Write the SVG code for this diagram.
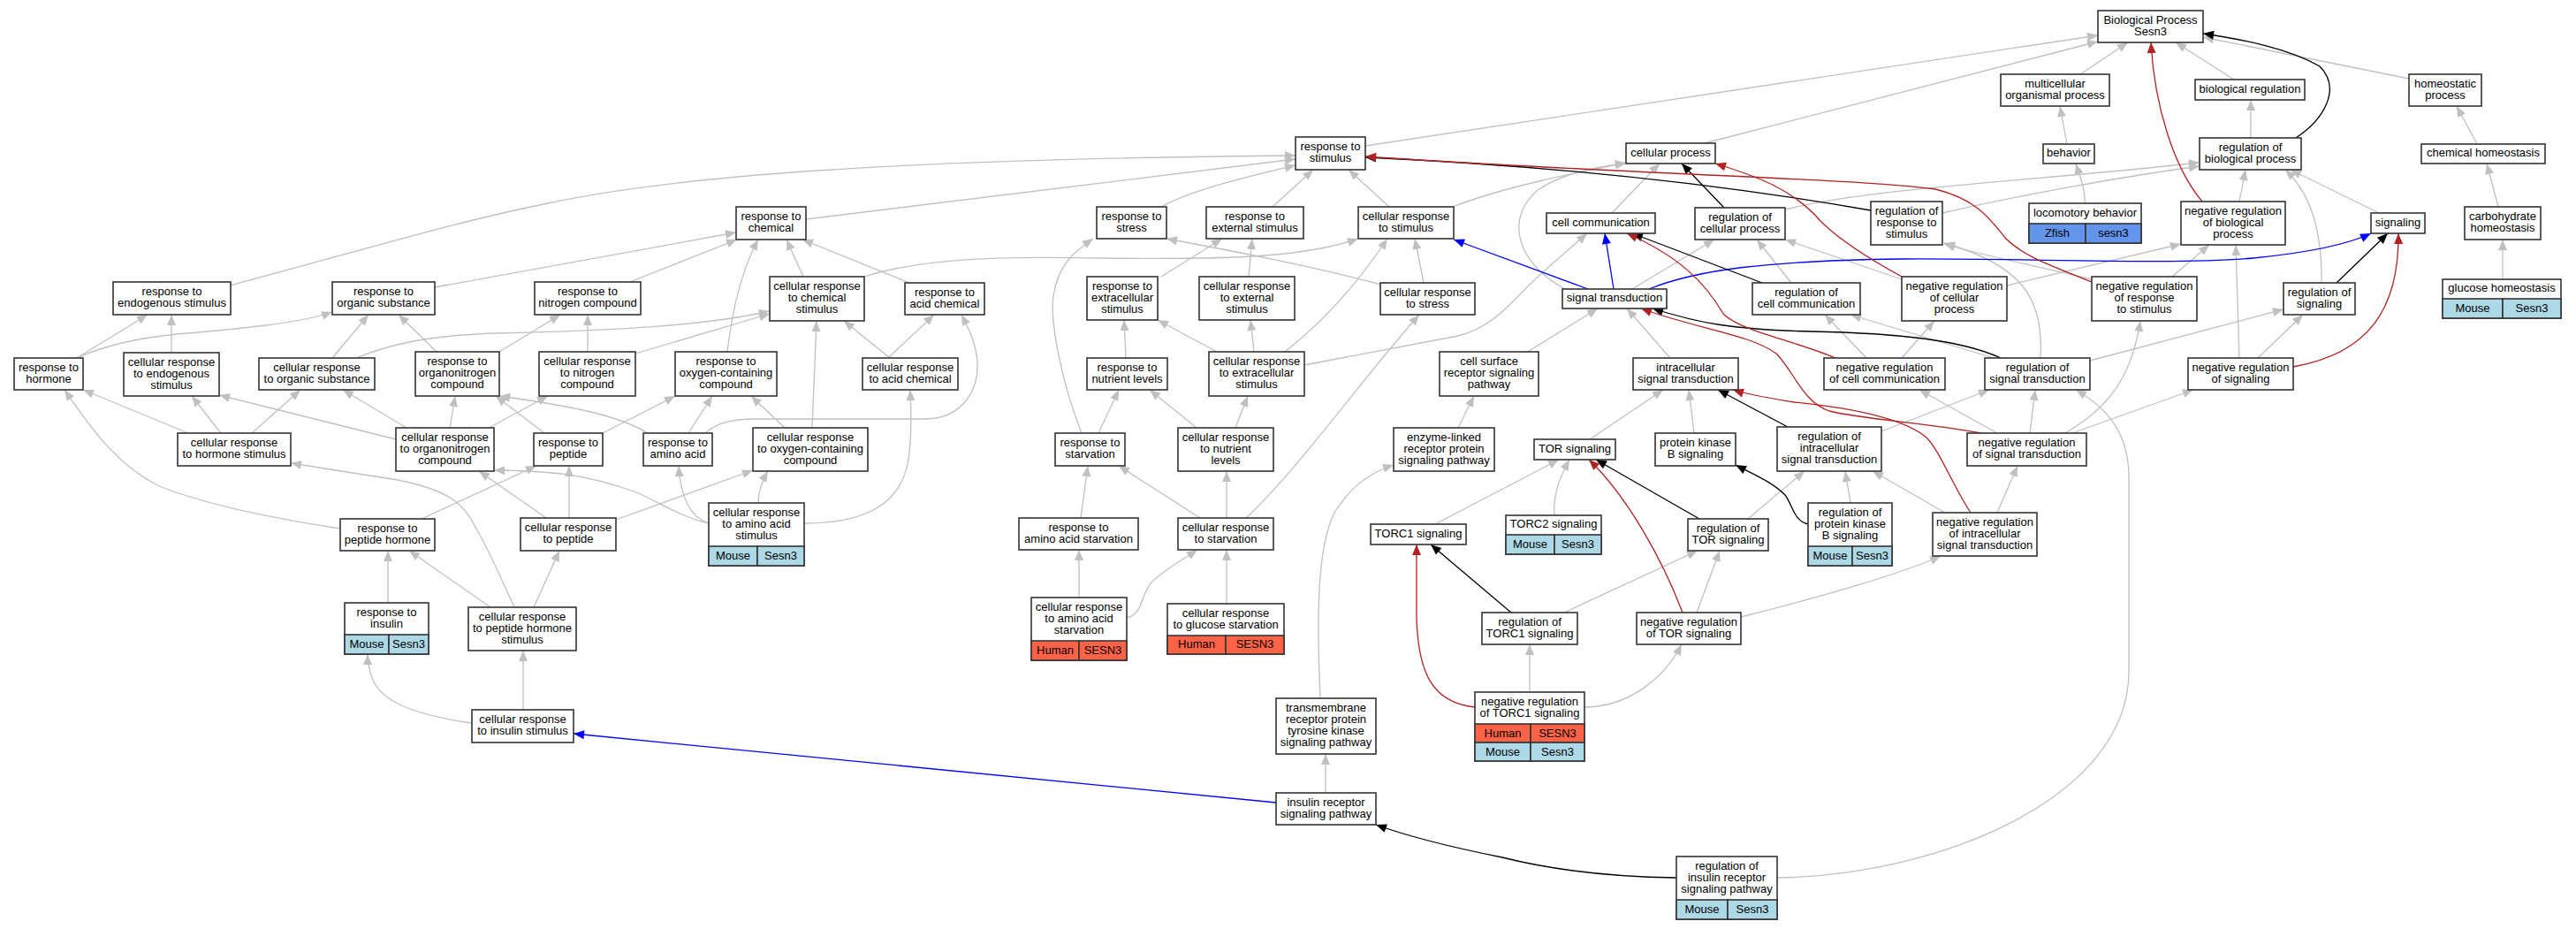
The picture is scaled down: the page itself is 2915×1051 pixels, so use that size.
<svg xmlns="http://www.w3.org/2000/svg" width="2915" height="1051" viewBox="0 0 2915 1051">
<style>
.n rect{fill:#fff;stroke:#333;stroke-width:1.6}
.n rect.mo{fill:#add8e6}
.n rect.hu{fill:#ff6347}
.n rect.zf{fill:#6495ed}
text{font-family:"Liberation Sans",Arial,Helvetica,sans-serif;font-size:13px;text-anchor:middle;fill:#000}
#edges path{fill:none;stroke-width:1.3}
#edges .g{stroke:#c0c0c0;marker-end:url(#mg)}
#edges .k{stroke:#000;marker-end:url(#mk)}
#edges .r{stroke:#b22222;marker-end:url(#mr)}
#edges .b{stroke:#0000ff;marker-end:url(#mb)}
</style>
<defs>
<marker id="mg" markerUnits="userSpaceOnUse" markerWidth="13" markerHeight="11" refX="12" refY="5" orient="auto" overflow="visible"><path d="M0,0L12,5L0,10z" fill="#c0c0c0"/></marker>
<marker id="mk" markerUnits="userSpaceOnUse" markerWidth="13" markerHeight="11" refX="12" refY="5" orient="auto" overflow="visible"><path d="M0,0L12,5L0,10z" fill="#000"/></marker>
<marker id="mr" markerUnits="userSpaceOnUse" markerWidth="13" markerHeight="11" refX="12" refY="5" orient="auto" overflow="visible"><path d="M0,0L12,5L0,10z" fill="#b22222"/></marker>
<marker id="mb" markerUnits="userSpaceOnUse" markerWidth="13" markerHeight="11" refX="12" refY="5" orient="auto" overflow="visible"><path d="M0,0L12,5L0,10z" fill="#0000ff"/></marker>
</defs>
<rect x="0" y="0" width="2915" height="1051" fill="#fff"/>
<g id="edges">
<path class="g" d="M1545,165 L2374,40"/>
<path class="g" d="M1929,162 L2374,47"/>
<path class="g" d="M2354,84 L2408,48"/>
<path class="g" d="M2528,90 L2462,48"/>
<path class="g" d="M2726,89 L2493,42"/>
<path class="g" d="M2339,163 L2331,120"/>
<path class="g" d="M2359,230 C2360,214 2353,198 2349,185"/>
<path class="g" d="M2547,156 L2547,113"/>
<path class="g" d="M2803,163 L2780,120"/>
<path class="g" d="M2827,234 L2814,185"/>
<path class="g" d="M2832,316 L2832,271"/>
<path class="g" d="M2534,228 L2541,192"/>
<path class="g" d="M2692,241 L2592,192"/>
<path class="g" d="M2627,320 C2628,270 2618,222 2586,192"/>
<path class="g" d="M2020,237 C2120,212 2300,205 2489,184"/>
<path class="g" d="M2198,241 C2280,222 2400,200 2489,188"/>
<path class="g" d="M2367,316 C2300,300 2240,288 2200,276"/>
<path class="g" d="M2309,405 C2313,340 2290,300 2200,275"/>
<path class="g" d="M2458,313 L2500,277"/>
<path class="g" d="M2271,323 L2468,276"/>
<path class="g" d="M2152,316 L2020,271"/>
<path class="g" d="M2555,405 L2606,356"/>
<path class="g" d="M2534,405 L2530,277"/>
<path class="g" d="M2365,408 L2584,350"/>
<path class="g" d="M2256,405 L2094,356"/>
<path class="g" d="M2297,490 L2303,441"/>
<path class="g" d="M2260,490 L2172,441"/>
<path class="g" d="M2345,490 L2482,441"/>
<path class="g" d="M2337,490 C2385,462 2412,428 2422,363"/>
<path class="g" d="M2011,993 C2200,990 2409,900 2409,760 L2409,540 C2409,490 2385,462 2349,441"/>
<path class="g" d="M2129,488 L2251,441"/>
<path class="g" d="M2201,580 L2119,533"/>
<path class="g" d="M2260,580 L2283,527"/>
<path class="g" d="M2094,569 L2088,533"/>
<path class="g" d="M1978,587 L2042,533"/>
<path class="g" d="M1920,693 L1946,623"/>
<path class="g" d="M1970,698 C2050,678 2150,650 2196,629"/>
<path class="g" d="M1770,693 L1921,623"/>
<path class="g" d="M1731,783 L1731,729"/>
<path class="g" d="M1793,800 C1840,800 1882,770 1903,729"/>
<path class="g" d="M1624,593 L1764,520"/>
<path class="g" d="M1759,583 C1757,560 1765,540 1776,520"/>
<path class="g" d="M1799,497 L1882,441"/>
<path class="g" d="M1917,490 L1911,441"/>
<path class="g" d="M1890,405 L1841,349"/>
<path class="g" d="M1727,399 L1808,349"/>
<path class="g" d="M1650,484 L1668,448"/>
<path class="g" d="M1494,790 C1490,700 1490,620 1510,580 C1528,550 1552,534 1577,526"/>
<path class="g" d="M1500,897 L1500,853"/>
<path class="g" d="M1476,413 L1650,380 C1690,370 1712,340 1733,320 C1758,296 1778,280 1796,264"/>
<path class="g" d="M1644,234 C1700,212 1780,196 1840,184"/>
<path class="g" d="M1771,327 C1720,300 1700,250 1740,215 C1770,195 1810,188 1840,185"/>
<path class="g" d="M1847,327 L1940,271"/>
<path class="g" d="M1824,241 L1878,185"/>
<path class="g" d="M2027,320 L1988,271"/>
<path class="g" d="M2112,405 L2065,356"/>
<path class="g" d="M2152,405 L2189,363"/>
<path class="g" d="M1572,234 L1526,192"/>
<path class="g" d="M1440,234 L1486,192"/>
<path class="g" d="M1314,234 C1350,214 1420,198 1466,187"/>
<path class="g" d="M912,248 L1466,180"/>
<path class="g" d="M260,323 C420,280 520,250 620,230 C760,200 1000,180 1466,176"/>
<path class="g" d="M492,325 L833,263"/>
<path class="g" d="M713,319 L834,271"/>
<path class="g" d="M823,398 C830,340 842,300 858,271"/>
<path class="g" d="M909,313 L890,271"/>
<path class="g" d="M1029,320 L908,271"/>
<path class="g" d="M978,313 C1050,290 1150,290 1250,292 C1400,294 1480,290 1537,270"/>
<path class="g" d="M1563,322 C1480,300 1400,285 1320,270"/>
<path class="g" d="M1611,320 L1601,270"/>
<path class="g" d="M1314,313 L1383,270"/>
<path class="g" d="M1413,313 L1417,270"/>
<path class="g" d="M1377,398 L1310,362"/>
<path class="g" d="M1419,398 L1415,362"/>
<path class="g" d="M1454,398 C1490,370 1530,330 1570,270"/>
<path class="g" d="M1274,405 L1272,362"/>
<path class="g" d="M1243,490 L1266,441"/>
<path class="g" d="M1224,490 C1200,430 1188,360 1192,335 C1197,300 1215,285 1237,270"/>
<path class="g" d="M1354,484 L1301,441"/>
<path class="g" d="M1398,484 L1412,448"/>
<path class="g" d="M1358,586 L1266,527"/>
<path class="g" d="M1388,586 L1388,533"/>
<path class="g" d="M1410,586 C1470,530 1540,430 1606,356"/>
<path class="g" d="M1223,586 L1231,527"/>
<path class="g" d="M1221,676 L1221,622"/>
<path class="g" d="M1275,699 C1295,695 1290,670 1305,657 C1320,643 1340,632 1355,622"/>
<path class="g" d="M1388,683 L1388,622"/>
<path class="g" d="M87,405 L167,356"/>
<path class="g" d="M87,405 C120,390 160,382 200,378 C260,373 340,366 376,353"/>
<path class="g" d="M194,399 L194,356"/>
<path class="g" d="M376,405 L417,356"/>
<path class="g" d="M403,405 C440,390 480,380 560,377 C700,374 800,368 871,352"/>
<path class="g" d="M494,398 L451,356"/>
<path class="g" d="M565,398 L634,356"/>
<path class="g" d="M665,398 L665,356"/>
<path class="g" d="M719,400 L871,355"/>
<path class="g" d="M213,490 L94,441"/>
<path class="g" d="M250,490 L217,448"/>
<path class="g" d="M285,490 L340,441"/>
<path class="g" d="M460,484 L388,441"/>
<path class="g" d="M448,497 L248,447"/>
<path class="g" d="M509,484 L515,448"/>
<path class="g" d="M553,484 L620,448"/>
<path class="g" d="M385,598 C300,585 230,570 180,550 C130,525 100,480 73,441"/>
<path class="g" d="M477,587 L607,527"/>
<path class="g" d="M616,490 L561,448"/>
<path class="g" d="M682,490 L764,448"/>
<path class="g" d="M779,490 L806,448"/>
<path class="g" d="M733,490 C700,470 650,460 565,448"/>
<path class="g" d="M798,490 C810,480 822,475 850,474 L1050,474 C1090,472 1108,440 1106,410 C1104,385 1095,370 1088,356"/>
<path class="g" d="M888,484 L850,448"/>
<path class="g" d="M919,484 L924,363"/>
<path class="g" d="M1005,405 L1057,356"/>
<path class="g" d="M1007,405 L955,363"/>
<path class="g" d="M802,592 C780,585 770,560 768,527"/>
<path class="g" d="M858,569 C858,555 862,545 869,533"/>
<path class="g" d="M910,592 C980,592 1020,570 1028,520 C1032,490 1031,465 1030,441"/>
<path class="g" d="M802,592 C770,585 750,570 720,557 C660,535 620,533 559,532"/>
<path class="g" d="M644,586 L644,527"/>
<path class="g" d="M618,586 L542,533"/>
<path class="g" d="M697,588 L852,532"/>
<path class="g" d="M555,687 L463,623"/>
<path class="g" d="M604,687 L633,623"/>
<path class="g" d="M582,687 C565,650 552,620 540,600 C525,570 510,555 450,543 L329,524"/>
<path class="g" d="M439,682 L439,623"/>
<path class="g" d="M534,818 C490,812 440,800 425,775 C418,762 416,752 416,740"/>
<path class="g" d="M592,803 L592,736"/>
<path class="b" d="M1797,327 L1645,271"/>
<path class="b" d="M1826,327 L1816,264"/>
<path class="b" d="M1866,327 C1920,305 2000,295 2150,293 C2300,292 2450,300 2550,292 C2620,285 2660,275 2683,264"/>
<path class="b" d="M1444,908 L649,830"/>
<path class="k" d="M2598,156 C2630,135 2650,100 2625,75 C2590,55 2540,45 2493,38"/>
<path class="k" d="M2117,238 C1900,200 1700,185 1545,178"/>
<path class="k" d="M1951,235 L1903,185"/>
<path class="k" d="M1994,320 L1847,264"/>
<path class="k" d="M2264,405 C2220,385 2150,377 2050,375 C1960,373 1920,365 1870,349"/>
<path class="k" d="M2023,483 L1944,441"/>
<path class="k" d="M1923,587 L1806,520"/>
<path class="k" d="M1710,693 L1619,616"/>
<path class="k" d="M2046,593 C2030,590 2028,570 2020,560 C2005,545 1985,537 1964,526"/>
<path class="k" d="M1897,993 C1820,992 1760,985 1700,970 C1640,958 1590,945 1557,933"/>
<path class="k" d="M2644,320 L2702,264"/>
<path class="r" d="M2492,228 C2460,190 2438,120 2434,48"/>
<path class="r" d="M2367,319 C2320,300 2290,290 2270,270 C2250,245 2235,225 2190,214 C2100,202 1800,195 1545,177"/>
<path class="r" d="M2152,313 C2110,290 2080,270 2060,250 C2030,215 1990,200 1941,185"/>
<path class="r" d="M2077,405 C2030,385 1970,375 1950,355 C1930,320 1900,290 1841,264"/>
<path class="r" d="M2242,490 C2180,478 2110,475 2070,465 C2040,455 2030,420 2010,400 C1980,378 1920,372 1857,349"/>
<path class="r" d="M2230,580 C2210,550 2195,510 2180,495 C2150,470 2080,460 2030,455 C2000,450 1980,447 1961,441"/>
<path class="r" d="M1904,693 C1880,630 1840,560 1798,520"/>
<path class="r" d="M1669,800 C1620,795 1605,760 1603,700 L1603,616"/>
<path class="r" d="M2595,415 C2680,400 2715,350 2714,264"/>
</g>
<g id="n-root" class="n"><rect x="2374" y="12" width="119" height="36"/><text x="2433.5" y="26.5">Biological Process</text><text x="2433.5" y="39.5">Sesn3</text></g>
<g id="n-multi" class="n"><rect x="2264" y="84" width="123" height="36"/><text x="2325.5" y="98.5">multicellular</text><text x="2325.5" y="111.5">organismal process</text></g>
<g id="n-bioreg" class="n"><rect x="2484" y="90" width="124" height="23"/><text x="2546" y="104.5">biological regulation</text></g>
<g id="n-homeo" class="n"><rect x="2726" y="84" width="82" height="36"/><text x="2767" y="98.5">homeostatic</text><text x="2767" y="111.5">process</text></g>
<g id="n-behavior" class="n"><rect x="2312" y="163" width="58" height="22"/><text x="2341" y="177">behavior</text></g>
<g id="n-regbio" class="n"><rect x="2489" y="156" width="115" height="36"/><text x="2546.5" y="170.5">regulation of</text><text x="2546.5" y="183.5">biological process</text></g>
<g id="n-chemhomeo" class="n"><rect x="2740" y="163" width="140" height="22"/><text x="2810" y="177">chemical homeostasis</text></g>
<g id="n-locom" class="n"><rect x="2296" y="230" width="127" height="45"/><rect class="zf" x="2296" y="253" width="64" height="22"/><rect class="zf" x="2360" y="253" width="63" height="22"/><text x="2359.5" y="244.5">locomotory behavior</text><text x="2328" y="268">Zfish</text><text x="2391.5" y="268">sesn3</text></g>
<g id="n-negbio" class="n"><rect x="2468" y="228" width="118" height="49"/><text x="2527" y="242.5">negative regulation</text><text x="2527" y="255.5">of biological</text><text x="2527" y="268.5">process</text></g>
<g id="n-signaling" class="n"><rect x="2683" y="241" width="61" height="23"/><text x="2713.5" y="255.5">signaling</text></g>
<g id="n-carbo" class="n"><rect x="2789" y="234" width="86" height="37"/><text x="2832" y="249">carbohydrate</text><text x="2832" y="262">homeostasis</text></g>
<g id="n-negresp" class="n"><rect x="2367" y="313" width="119" height="50"/><text x="2426.5" y="328">negative regulation</text><text x="2426.5" y="341">of response</text><text x="2426.5" y="354">to stimulus</text></g>
<g id="n-regsig" class="n"><rect x="2584" y="320" width="81" height="36"/><text x="2624.5" y="334.5">regulation of</text><text x="2624.5" y="347.5">signaling</text></g>
<g id="n-glucose" class="n"><rect x="2764" y="316" width="134" height="44"/><rect class="mo" x="2764" y="338" width="68" height="22"/><rect class="mo" x="2832" y="338" width="66" height="22"/><text x="2831" y="330">glucose homeostasis</text><text x="2798" y="352.5">Mouse</text><text x="2865" y="352.5">Sesn3</text></g>
<g id="n-negsig" class="n"><rect x="2476" y="405" width="119" height="36"/><text x="2535.5" y="419.5">negative regulation</text><text x="2535.5" y="432.5">of signaling</text></g>
<g id="n-stim" class="n"><rect x="1466" y="155" width="79" height="37"/><text x="1505.5" y="170">response to</text><text x="1505.5" y="183">stimulus</text></g>
<g id="n-cellproc" class="n"><rect x="1840" y="162" width="101" height="23"/><text x="1890.5" y="176.5">cellular process</text></g>
<g id="n-regresp" class="n"><rect x="2117" y="228" width="81" height="49"/><text x="2157.5" y="242.5">regulation of</text><text x="2157.5" y="255.5">response to</text><text x="2157.5" y="268.5">stimulus</text></g>
<g id="n-cellcomm" class="n"><rect x="1750" y="241" width="123" height="23"/><text x="1811.5" y="255.5">cell communication</text></g>
<g id="n-regcellproc" class="n"><rect x="1918" y="235" width="102" height="36"/><text x="1969" y="249.5">regulation of</text><text x="1969" y="262.5">cellular process</text></g>
<g id="n-sigtrans" class="n"><rect x="1768" y="327" width="118" height="22"/><text x="1827" y="341">signal transduction</text></g>
<g id="n-regcellcomm" class="n"><rect x="1983" y="320" width="122" height="36"/><text x="2044" y="334.5">regulation of</text><text x="2044" y="347.5">cell communication</text></g>
<g id="n-negcellproc" class="n"><rect x="2152" y="313" width="119" height="50"/><text x="2211.5" y="328">negative regulation</text><text x="2211.5" y="341">of cellular</text><text x="2211.5" y="354">process</text></g>
<g id="n-intra" class="n"><rect x="1848" y="405" width="119" height="36"/><text x="1907.5" y="419.5">intracellular</text><text x="1907.5" y="432.5">signal transduction</text></g>
<g id="n-negcellcomm" class="n"><rect x="2064" y="405" width="137" height="36"/><text x="2132.5" y="419.5">negative regulation</text><text x="2132.5" y="432.5">of cell communication</text></g>
<g id="n-regsigtrans" class="n"><rect x="2246" y="405" width="119" height="36"/><text x="2305.5" y="419.5">regulation of</text><text x="2305.5" y="432.5">signal transduction</text></g>
<g id="n-cellsurf" class="n"><rect x="1629" y="398" width="112" height="50"/><text x="1685" y="413">cell surface</text><text x="1685" y="426">receptor signaling</text><text x="1685" y="439">pathway</text></g>
<g id="n-negsigtrans" class="n"><rect x="2226" y="490" width="135" height="37"/><text x="2293.5" y="505">negative regulation</text><text x="2293.5" y="518">of signal transduction</text></g>
<g id="n-regintra" class="n"><rect x="2011" y="483" width="118" height="50"/><text x="2070" y="498">regulation of</text><text x="2070" y="511">intracellular</text><text x="2070" y="524">signal transduction</text></g>
<g id="n-tor" class="n"><rect x="1736" y="497" width="92" height="23"/><text x="1782" y="511.5">TOR signaling</text></g>
<g id="n-pkb" class="n"><rect x="1873" y="490" width="91" height="37"/><text x="1918.5" y="505">protein kinase</text><text x="1918.5" y="518">B signaling</text></g>
<g id="n-enzyme" class="n"><rect x="1577" y="484" width="114" height="49"/><text x="1634" y="498.5">enzyme-linked</text><text x="1634" y="511.5">receptor protein</text><text x="1634" y="524.5">signaling pathway</text></g>
<g id="n-torc2" class="n"><rect x="1704" y="583" width="108" height="44"/><rect class="mo" x="1704" y="605" width="55" height="22"/><rect class="mo" x="1759" y="605" width="53" height="22"/><text x="1758" y="597">TORC2 signaling</text><text x="1731.5" y="619.5">Mouse</text><text x="1785.5" y="619.5">Sesn3</text></g>
<g id="n-regtor" class="n"><rect x="1910" y="587" width="91" height="36"/><text x="1955.5" y="601.5">regulation of</text><text x="1955.5" y="614.5">TOR signaling</text></g>
<g id="n-regpkb" class="n"><rect x="2046" y="569" width="95" height="71"/><rect class="mo" x="2046" y="618" width="50" height="22"/><rect class="mo" x="2096" y="618" width="45" height="22"/><text x="2093.5" y="583.5">regulation of</text><text x="2093.5" y="596.5">protein kinase</text><text x="2093.5" y="609.5">B signaling</text><text x="2071" y="632.5">Mouse</text><text x="2118.5" y="632.5">Sesn3</text></g>
<g id="n-negintra" class="n"><rect x="2187" y="580" width="118" height="49"/><text x="2246" y="594.5">negative regulation</text><text x="2246" y="607.5">of intracellular</text><text x="2246" y="620.5">signal transduction</text></g>
<g id="n-torc1" class="n"><rect x="1551" y="593" width="108" height="23"/><text x="1605" y="607.5">TORC1 signaling</text></g>
<g id="n-regtorc1" class="n"><rect x="1677" y="693" width="108" height="36"/><text x="1731" y="707.5">regulation of</text><text x="1731" y="720.5">TORC1 signaling</text></g>
<g id="n-negtor" class="n"><rect x="1852" y="693" width="118" height="36"/><text x="1911" y="707.5">negative regulation</text><text x="1911" y="720.5">of TOR signaling</text></g>
<g id="n-negtorc1" class="n"><rect x="1669" y="783" width="124" height="78"/><rect class="hu" x="1669" y="819" width="63" height="21"/><rect class="hu" x="1732" y="819" width="61" height="21"/><rect class="mo" x="1669" y="840" width="63" height="21"/><rect class="mo" x="1732" y="840" width="61" height="21"/><text x="1731" y="797.5">negative regulation</text><text x="1731" y="810.5">of TORC1 signaling</text><text x="1700.5" y="833.5">Human</text><text x="1762.5" y="833.5">SESN3</text><text x="1700.5" y="854.5">Mouse</text><text x="1762.5" y="854.5">Sesn3</text></g>
<g id="n-rtk" class="n"><rect x="1444" y="790" width="113" height="63"/><text x="1500.5" y="805">transmembrane</text><text x="1500.5" y="818">receptor protein</text><text x="1500.5" y="831">tyrosine kinase</text><text x="1500.5" y="844">signaling pathway</text></g>
<g id="n-insrec" class="n"><rect x="1444" y="897" width="113" height="36"/><text x="1500.5" y="911.5">insulin receptor</text><text x="1500.5" y="924.5">signaling pathway</text></g>
<g id="n-reginsrec" class="n"><rect x="1897" y="969" width="114" height="71"/><rect class="mo" x="1897" y="1018" width="58" height="22"/><rect class="mo" x="1955" y="1018" width="56" height="22"/><text x="1954" y="983.5">regulation of</text><text x="1954" y="996.5">insulin receptor</text><text x="1954" y="1009.5">signaling pathway</text><text x="1926" y="1032.5">Mouse</text><text x="1983" y="1032.5">Sesn3</text></g>
<g id="n-stress" class="n"><rect x="1241" y="234" width="79" height="36"/><text x="1280.5" y="248.5">response to</text><text x="1280.5" y="261.5">stress</text></g>
<g id="n-ext" class="n"><rect x="1365" y="234" width="110" height="36"/><text x="1420" y="248.5">response to</text><text x="1420" y="261.5">external stimulus</text></g>
<g id="n-cstim" class="n"><rect x="1537" y="234" width="108" height="36"/><text x="1591" y="248.5">cellular response</text><text x="1591" y="261.5">to stimulus</text></g>
<g id="n-extra" class="n"><rect x="1230" y="313" width="80" height="49"/><text x="1270" y="327.5">response to</text><text x="1270" y="340.5">extracellular</text><text x="1270" y="353.5">stimulus</text></g>
<g id="n-cext" class="n"><rect x="1357" y="313" width="108" height="49"/><text x="1411" y="327.5">cellular response</text><text x="1411" y="340.5">to external</text><text x="1411" y="353.5">stimulus</text></g>
<g id="n-cstress" class="n"><rect x="1562" y="320" width="107" height="36"/><text x="1615.5" y="334.5">cellular response</text><text x="1615.5" y="347.5">to stress</text></g>
<g id="n-nutr" class="n"><rect x="1230" y="405" width="91" height="36"/><text x="1275.5" y="419.5">response to</text><text x="1275.5" y="432.5">nutrient levels</text></g>
<g id="n-cextra" class="n"><rect x="1368" y="398" width="108" height="50"/><text x="1422" y="413">cellular response</text><text x="1422" y="426">to extracellular</text><text x="1422" y="439">stimulus</text></g>
<g id="n-starv" class="n"><rect x="1194" y="490" width="79" height="37"/><text x="1233.5" y="505">response to</text><text x="1233.5" y="518">starvation</text></g>
<g id="n-cnutr" class="n"><rect x="1333" y="484" width="108" height="49"/><text x="1387" y="498.5">cellular response</text><text x="1387" y="511.5">to nutrient</text><text x="1387" y="524.5">levels</text></g>
<g id="n-aastarv" class="n"><rect x="1153" y="586" width="135" height="36"/><text x="1220.5" y="600.5">response to</text><text x="1220.5" y="613.5">amino acid starvation</text></g>
<g id="n-cstarv" class="n"><rect x="1333" y="586" width="108" height="36"/><text x="1387" y="600.5">cellular response</text><text x="1387" y="613.5">to starvation</text></g>
<g id="n-caastarv" class="n"><rect x="1167" y="676" width="108" height="71"/><rect class="hu" x="1167" y="725" width="54" height="22"/><rect class="hu" x="1221" y="725" width="54" height="22"/><text x="1221" y="690.5">cellular response</text><text x="1221" y="703.5">to amino acid</text><text x="1221" y="716.5">starvation</text><text x="1194" y="739.5">Human</text><text x="1248" y="739.5">SESN3</text></g>
<g id="n-cglucstarv" class="n"><rect x="1321" y="683" width="132" height="57"/><rect class="hu" x="1321" y="719" width="66" height="21"/><rect class="hu" x="1387" y="719" width="66" height="21"/><text x="1387" y="697.5">cellular response</text><text x="1387" y="710.5">to glucose starvation</text><text x="1354" y="733">Human</text><text x="1420" y="733">SESN3</text></g>
<g id="n-chem" class="n"><rect x="833" y="234" width="79" height="37"/><text x="872.5" y="249">response to</text><text x="872.5" y="262">chemical</text></g>
<g id="n-endog" class="n"><rect x="128" y="319" width="133" height="37"/><text x="194.5" y="334">response to</text><text x="194.5" y="347">endogenous stimulus</text></g>
<g id="n-organic" class="n"><rect x="376" y="319" width="116" height="37"/><text x="434" y="334">response to</text><text x="434" y="347">organic substance</text></g>
<g id="n-nitro" class="n"><rect x="605" y="319" width="120" height="37"/><text x="665" y="334">response to</text><text x="665" y="347">nitrogen compound</text></g>
<g id="n-cchem" class="n"><rect x="871" y="313" width="107" height="50"/><text x="924.5" y="328">cellular response</text><text x="924.5" y="341">to chemical</text><text x="924.5" y="354">stimulus</text></g>
<g id="n-acid" class="n"><rect x="1024" y="320" width="90" height="36"/><text x="1069" y="334.5">response to</text><text x="1069" y="347.5">acid chemical</text></g>
<g id="n-hormone" class="n"><rect x="16" y="405" width="78" height="36"/><text x="55" y="419.5">response to</text><text x="55" y="432.5">hormone</text></g>
<g id="n-cendog" class="n"><rect x="140" y="399" width="108" height="49"/><text x="194" y="413.5">cellular response</text><text x="194" y="426.5">to endogenous</text><text x="194" y="439.5">stimulus</text></g>
<g id="n-corganic" class="n"><rect x="293" y="405" width="131" height="36"/><text x="358.5" y="419.5">cellular response</text><text x="358.5" y="432.5">to organic substance</text></g>
<g id="n-organonitro" class="n"><rect x="470" y="398" width="95" height="50"/><text x="517.5" y="413">response to</text><text x="517.5" y="426">organonitrogen</text><text x="517.5" y="439">compound</text></g>
<g id="n-cnitro" class="n"><rect x="610" y="398" width="109" height="50"/><text x="664.5" y="413">cellular response</text><text x="664.5" y="426">to nitrogen</text><text x="664.5" y="439">compound</text></g>
<g id="n-oxy" class="n"><rect x="764" y="398" width="115" height="50"/><text x="821.5" y="413">response to</text><text x="821.5" y="426">oxygen-containing</text><text x="821.5" y="439">compound</text></g>
<g id="n-cacid" class="n"><rect x="976" y="405" width="108" height="36"/><text x="1030" y="419.5">cellular response</text><text x="1030" y="432.5">to acid chemical</text></g>
<g id="n-chormone" class="n"><rect x="201" y="490" width="128" height="37"/><text x="265" y="505">cellular response</text><text x="265" y="518">to hormone stimulus</text></g>
<g id="n-corganonitro" class="n"><rect x="448" y="484" width="111" height="49"/><text x="503.5" y="498.5">cellular response</text><text x="503.5" y="511.5">to organonitrogen</text><text x="503.5" y="524.5">compound</text></g>
<g id="n-peptide" class="n"><rect x="604" y="490" width="78" height="37"/><text x="643" y="505">response to</text><text x="643" y="518">peptide</text></g>
<g id="n-amino" class="n"><rect x="728" y="490" width="78" height="37"/><text x="767" y="505">response to</text><text x="767" y="518">amino acid</text></g>
<g id="n-coxy" class="n"><rect x="852" y="484" width="130" height="49"/><text x="917" y="498.5">cellular response</text><text x="917" y="511.5">to oxygen-containing</text><text x="917" y="524.5">compound</text></g>
<g id="n-caminostim" class="n"><rect x="802" y="569" width="108" height="71"/><rect class="mo" x="802" y="618" width="55" height="22"/><rect class="mo" x="857" y="618" width="53" height="22"/><text x="856" y="583.5">cellular response</text><text x="856" y="596.5">to amino acid</text><text x="856" y="609.5">stimulus</text><text x="829.5" y="632.5">Mouse</text><text x="883.5" y="632.5">Sesn3</text></g>
<g id="n-pephorm" class="n"><rect x="385" y="587" width="107" height="36"/><text x="438.5" y="601.5">response to</text><text x="438.5" y="614.5">peptide hormone</text></g>
<g id="n-cpeptide" class="n"><rect x="589" y="586" width="108" height="37"/><text x="643" y="601">cellular response</text><text x="643" y="614">to peptide</text></g>
<g id="n-insulin" class="n"><rect x="390" y="682" width="95" height="58"/><rect class="mo" x="390" y="718" width="50" height="22"/><rect class="mo" x="440" y="718" width="45" height="22"/><text x="437.5" y="696.5">response to</text><text x="437.5" y="709.5">insulin</text><text x="415" y="732.5">Mouse</text><text x="462.5" y="732.5">Sesn3</text></g>
<g id="n-cpephorm" class="n"><rect x="530" y="687" width="122" height="49"/><text x="591" y="701.5">cellular response</text><text x="591" y="714.5">to peptide hormone</text><text x="591" y="727.5">stimulus</text></g>
<g id="n-cinsulin" class="n"><rect x="534" y="803" width="115" height="37"/><text x="591.5" y="818">cellular response</text><text x="591.5" y="831">to insulin stimulus</text></g>
</svg>
